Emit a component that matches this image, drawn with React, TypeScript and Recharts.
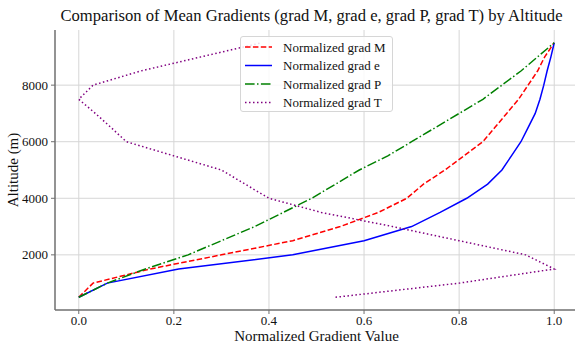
import { FC } from 'react'
import { LineChart, Line, XAxis, YAxis, CartesianGrid } from 'recharts'

const altitudes = [500, 1000, 1500, 2000, 2500, 3000, 3500, 4000, 4500, 5000, 5500, 6000, 6500, 7000, 7500, 8000, 8500, 9000, 9500]
const gradM = [0.0, 0.03, 0.15, 0.3, 0.45, 0.55, 0.63, 0.69, 0.725, 0.77, 0.81, 0.85, 0.875, 0.9, 0.925, 0.945, 0.965, 0.98, 1.0]
const gradE = [0.0, 0.06, 0.21, 0.45, 0.6, 0.7, 0.76, 0.816, 0.86, 0.89, 0.91, 0.93, 0.945, 0.96, 0.97, 0.978, 0.985, 0.993, 1.0]
const gradP = [0.0, 0.06, 0.14, 0.23, 0.3, 0.37, 0.43, 0.49, 0.54, 0.59, 0.65, 0.7, 0.75, 0.8, 0.85, 0.89, 0.93, 0.965, 1.0]
const gradT = [0.54, 0.8, 1.0, 0.94, 0.8, 0.66, 0.51, 0.4, 0.35, 0.3, 0.2, 0.1, 0.068, 0.035, 0.0, 0.03, 0.13, 0.257, 0.385]

const xTicks = [0, 0.2, 0.4, 0.6, 0.8, 1.0]
const yTicks = [2000, 4000, 6000, 8000]

const data = altitudes.map((alt, i) => ({ alt, M: gradM[i], e: gradE[i], P: gradP[i], T: gradT[i] }))

const FONT = '"Liberation Serif", "Times New Roman", serif'
const FRAME = '#6f6f6f'

const series = [
  { key: 'M', name: 'Normalized grad M', color: '#ff0000', dash: '5.5 2.4' },
  { key: 'e', name: 'Normalized grad e', color: '#0000ff', dash: undefined },
  { key: 'P', name: 'Normalized grad P', color: '#008000', dash: '9.6 2.4 1.5 2.4' },
  { key: 'T', name: 'Normalized grad T', color: '#800080', dash: '1.5 2.5' },
]

const LegendBox: FC = () => (
  <div
    style={{
      position: 'absolute',
      left: 240,
      top: 36,
      width: 153,
      height: 76,
      border: '1px solid #d6d6d6',
      borderRadius: 3,
      background: 'rgba(255,255,255,0.85)',
      boxSizing: 'border-box',
    }}
  >
    <svg width={153} height={76} style={{ position: 'absolute', left: -1, top: -1 }}>
      {series.map((s, i) => (
        <g key={s.key}>
          <line x1={5} x2={32} y1={11 + i * 18.5} y2={11 + i * 18.5} stroke={s.color} strokeWidth={1.5} strokeDasharray={s.dash} />
          <text x={43} y={11 + i * 18.5} dy="0.35em" fontSize={13} fontFamily={FONT} fill="#111">
            {s.name}
          </text>
        </g>
      ))}
    </svg>
  </div>
)

const App: FC = () => (
  <div style={{ position: 'absolute', left: 0, top: 0, width: 575, height: 346, overflow: 'hidden', background: '#fff' }}>
    <div
      style={{
        position: 'absolute',
        left: 50,
        width: 523,
        top: 6,
        textAlign: 'center',
        fontFamily: FONT,
        fontSize: 16.6,
        color: '#111',
        whiteSpace: 'nowrap',
      }}
    >
      Comparison of Mean Gradients (grad M, grad e, grad P, grad T) by Altitude
    </div>
    <LineChart width={590} height={346} data={data} layout="vertical" margin={{ top: 30, right: 12, left: 0, bottom: 0 }}>
      <CartesianGrid stroke="#d6d6d6" strokeWidth={1} horizontalValues={yTicks} verticalValues={xTicks} />
      <XAxis
        type="number"
        domain={[-0.05, 1.05]}
        ticks={xTicks}
        tickFormatter={(v: number) => v.toFixed(1)}
        height={36}
        tickSize={4}
        tickMargin={2}
        stroke={FRAME}
        axisLine={{ stroke: FRAME, strokeWidth: 1.5 }}
        tick={{ fill: '#111', fontSize: 13, fontFamily: FONT }}
        allowDataOverflow
        label={{ value: 'Normalized Gradient Value', position: 'insideBottom', offset: 5, fill: '#111', fontSize: 15, fontFamily: FONT }}
      />
      <XAxis xAxisId="top" orientation="top" type="number" domain={[-0.05, 1.05]} height={0} tick={false} tickLine={false} axisLine={{ stroke: FRAME, strokeWidth: 1.2 }} />
      <YAxis
        type="number"
        dataKey="alt"
        domain={[50, 9950]}
        ticks={yTicks}
        reversed
        width={55}
        tickSize={4}
        tickMargin={3}
        stroke={FRAME}
        axisLine={{ stroke: FRAME, strokeWidth: 1.5 }}
        tick={{ fill: '#111', fontSize: 13, fontFamily: FONT }}
        allowDataOverflow
        label={{
          content: () => (
            <text x={13} y={170} transform="rotate(-90 13 170)" textAnchor="middle" dominantBaseline="central" fontSize={15} fontFamily={FONT} fill="#111">
              Altitude (m)
            </text>
          ),
        }}
      />
      {series.map((s) => (
        <Line
          key={s.key}
          dataKey={s.key}
          name={s.name}
          type="linear"
          stroke={s.color}
          strokeWidth={1.5}
          strokeDasharray={s.dash}
          dot={false}
          activeDot={false}
          isAnimationActive={false}
        />
      ))}
    </LineChart>
    <LegendBox />
  </div>
)

export default App
